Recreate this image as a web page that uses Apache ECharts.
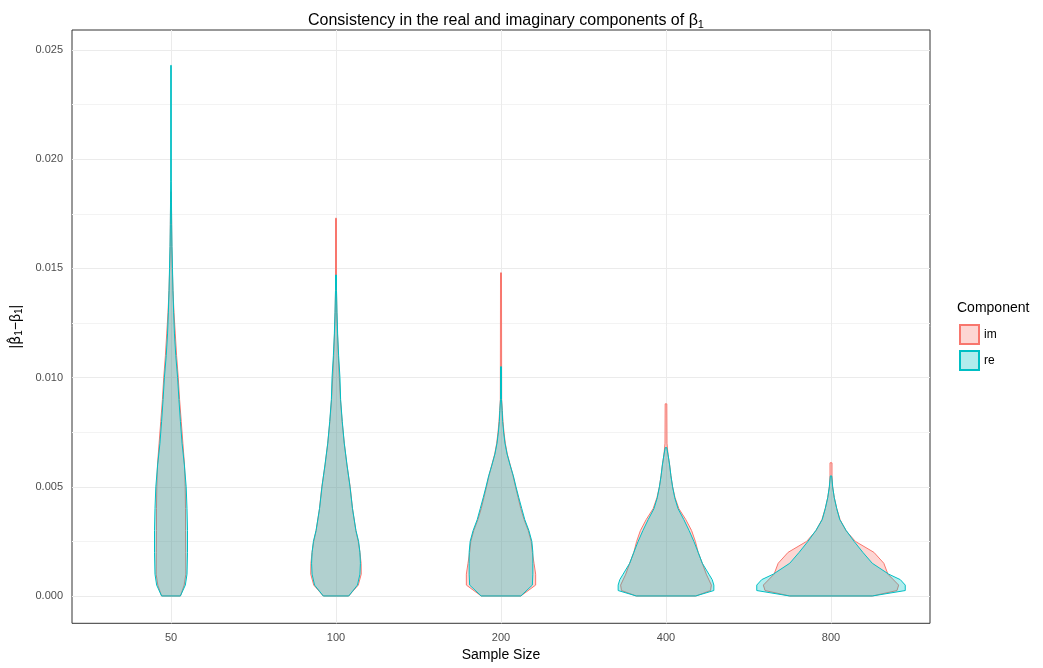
<!DOCTYPE html>
<html>
<head>
<meta charset="utf-8">
<script src="https://cdn.jsdelivr.net/npm/echarts@6/dist/echarts.min.js"></script>
<style>html,body{margin:0;padding:0;background:#fff}#main{width:1043px;height:668px}</style>
</head>
<body>
<div id="main"></div>
<script>
// sample sizes (x categories)
const categories = ['50', '100', '200', '400', '800'];
const yTicks = [0, 0.005, 0.01, 0.015, 0.02, 0.025];

// violin outlines: [value, half width in category units]
const im_50 = [[0,0.057],[0.0005,0.08],[0.001,0.09],[0.002,0.089],[0.003,0.088],[0.004,0.088],[0.005,0.086],[0.006,0.082],[0.007,0.072],[0.008,0.062],[0.009,0.052],[0.010,0.044],[0.011,0.034],[0.012,0.026],[0.013,0.018],[0.014,0.012],[0.015,0.008],[0.016,0.005],[0.017,0.004],[0.0185,0.002]];
const re_50 = [[0,0.057],[0.0005,0.087],[0.001,0.097],[0.002,0.1],[0.003,0.1],[0.004,0.097],[0.005,0.092],[0.006,0.081],[0.007,0.067],[0.008,0.057],[0.009,0.048],[0.010,0.04],[0.011,0.029],[0.012,0.021],[0.013,0.016],[0.014,0.012],[0.015,0.009],[0.016,0.006],[0.017,0.004],[0.018,0.003],[0.019,0.002],[0.0243,0.002]];
const im_100 = [[0,0.077],[0.0005,0.135],[0.001,0.153],[0.0015,0.152],[0.002,0.145],[0.0025,0.135],[0.003,0.12],[0.004,0.1],[0.005,0.086],[0.006,0.066],[0.007,0.05],[0.008,0.037],[0.009,0.027],[0.010,0.02],[0.011,0.014],[0.012,0.009],[0.013,0.005],[0.014,0.003],[0.0173,0.003]];
const re_100 = [[0,0.077],[0.0005,0.13],[0.001,0.145],[0.0015,0.148],[0.002,0.145],[0.0025,0.137],[0.003,0.121],[0.004,0.1],[0.005,0.085],[0.006,0.067],[0.007,0.05],[0.008,0.038],[0.009,0.028],[0.010,0.024],[0.011,0.016],[0.012,0.01],[0.013,0.006],[0.014,0.003],[0.0147,0.003]];
const im_200 = [[0,0.12],[0.0005,0.21],[0.001,0.21],[0.0015,0.2],[0.002,0.19],[0.0025,0.183],[0.003,0.165],[0.0035,0.14],[0.004,0.12],[0.0045,0.104],[0.005,0.088],[0.0055,0.073],[0.006,0.056],[0.0065,0.038],[0.007,0.026],[0.0075,0.018],[0.008,0.012],[0.0085,0.008],[0.009,0.004],[0.0148,0.003]];
const re_200 = [[0,0.12],[0.0005,0.19],[0.001,0.193],[0.0015,0.193],[0.002,0.193],[0.0025,0.187],[0.003,0.169],[0.0035,0.144],[0.004,0.126],[0.0045,0.108],[0.005,0.091],[0.0055,0.075],[0.006,0.055],[0.0065,0.037],[0.007,0.024],[0.0075,0.016],[0.008,0.01],[0.0085,0.007],[0.009,0.003],[0.0105,0.003]];
const im_400 = [[0,0.18],[0.00025,0.27],[0.0005,0.275],[0.001,0.244],[0.0015,0.22],[0.002,0.195],[0.0025,0.178],[0.003,0.155],[0.0035,0.12],[0.004,0.078],[0.0045,0.055],[0.005,0.04],[0.0055,0.03],[0.006,0.022],[0.0065,0.012],[0.007,0.006],[0.0088,0.005]];
const re_400 = [[0,0.18],[0.00025,0.29],[0.0005,0.29],[0.00075,0.28],[0.001,0.26],[0.0015,0.22],[0.002,0.195],[0.0025,0.169],[0.003,0.14],[0.0035,0.108],[0.004,0.073],[0.0045,0.053],[0.005,0.04],[0.0055,0.03],[0.006,0.022],[0.0065,0.012],[0.0068,0.004]];
const im_800 = [[0,0.25],[0.00025,0.4],[0.0005,0.41],[0.001,0.345],[0.0015,0.32],[0.002,0.26],[0.0025,0.148],[0.003,0.09],[0.0035,0.055],[0.004,0.035],[0.0045,0.02],[0.005,0.01],[0.0055,0.006],[0.0061,0.006]];
const re_800 = [[0,0.25],[0.00025,0.45],[0.0005,0.45],[0.00075,0.42],[0.001,0.35],[0.0015,0.25],[0.002,0.193],[0.0025,0.14],[0.003,0.092],[0.0035,0.053],[0.004,0.035],[0.0045,0.02],[0.005,0.01],[0.0055,0.004]];

const imProfiles = [im_50, im_100, im_200, im_400, im_800];
const reProfiles = [re_50, re_100, re_200, re_400, re_800];

const FONT = 'Liberation Sans';
const near = (v, s) => Math.abs(v / s - Math.round(v / s)) < 1e-6;

function violin(profiles) {
  return function (params, api) {
    const cx = api.value(0);
    const prof = profiles[params.dataIndex];
    const pts = [];
    prof.forEach(p => pts.push(api.coord([cx + p[1], p[0]])));
    for (let i = prof.length - 1; i >= 0; i--) pts.push(api.coord([cx - prof[i][1], prof[i][0]]));
    return { type: 'polygon', shape: { points: pts }, style: api.style() };
  };
}

const chart = echarts.init(document.getElementById('main'));
chart.setOption({
  animation: false,
  textStyle: { fontFamily: FONT },
  title: [{
    text: 'Consistency in the real and imaginary components of {b|β}{s|1}',
    left: 501, top: 6, textAlign: 'center',
    textStyle: { fontSize: 16, fontWeight: 'normal', color: '#000', fontFamily: FONT,
      rich: { b: { fontSize: 16, fontFamily: FONT }, s: { fontSize: 11, verticalAlign: 'bottom', padding: [8, 0, 0, 0], fontFamily: FONT } } }
  }, {
    text: 'Component', left: 952, top: 296,
    textStyle: { fontSize: 14, fontWeight: 'normal', color: '#000', fontFamily: FONT }
  }],
  legend: {
    orient: 'vertical', left: 954, top: 319, itemWidth: 19, itemHeight: 19, itemGap: 5,
    icon: 'rect', textStyle: { fontSize: 12, color: '#000' },
    data: ['im', 're']
  },
  grid: { left: 72, right: 113, top: 30, bottom: 44.7, show: true, borderColor: '#333', borderWidth: 1 },
  xAxis: {
    type: 'value', min: 0.4, max: 5.6, interval: 0.2,
    name: 'Sample Size', nameLocation: 'middle', nameGap: 23,
    nameTextStyle: { fontSize: 14, color: '#000' },
    axisLine: { show: false }, axisTick: { show: false },
    axisLabel: { fontSize: 11, color: '#4D4D4D', margin: 9, showMinLabel: false, showMaxLabel: false,
      formatter: v => near(v, 1) && v >= 1 && v <= 5 ? categories[Math.round(v) - 1] : '' },
    splitLine: { lineStyle: { color: ['transparent', 'transparent', 'transparent', '#EBEBEB', 'transparent'] } }
  },
  yAxis: {
    type: 'value', min: -0.00125, max: 0.02592, interval: 0.00125,
    name: '|{h|β̂}{s|1}−β{s|1}|', nameLocation: 'middle', nameGap: 46, nameRotate: 90,
    nameTextStyle: { fontSize: 14, color: '#000', rich: { h: { fontSize: 14, fontFamily: 'DejaVu Sans' }, s: { fontSize: 10, padding: [6, 0, 0, 0] } } },
    axisLine: { show: false }, axisTick: { show: false },
    axisLabel: { fontSize: 11, color: '#4D4D4D', margin: 9,
      formatter: v => near(v, 0.005) && v > -1e-9 && yTicks.length ? v.toFixed(3) : '' },
    splitLine: { lineStyle: { color: ['transparent', '#EBEBEB', 'transparent', '#F3F3F3'] } }
  },
  series: [{
    name: 'im', type: 'custom', renderItem: violin(imProfiles),
    itemStyle: { color: 'rgba(248,118,109,0.3)', borderColor: '#F8766D', borderWidth: 1 },
    data: categories.map((c, i) => [i + 1]), encode: { x: 0 }
  }, {
    name: 're', type: 'custom', renderItem: violin(reProfiles),
    itemStyle: { color: 'rgba(0,191,196,0.3)', borderColor: '#00BFC4', borderWidth: 1 },
    data: categories.map((c, i) => [i + 1]), encode: { x: 0 }
  }]
});
</script>
</body>
</html>
